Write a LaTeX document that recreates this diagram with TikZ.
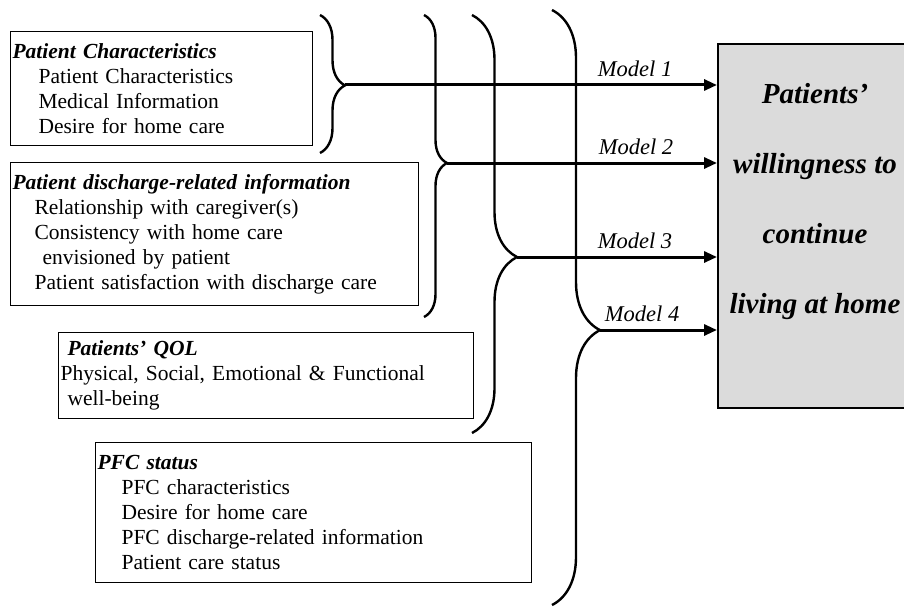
\documentclass[tikz,border=0pt]{standalone}
\usepackage{fontspec}
\setmainfont{Liberation Serif}
\usetikzlibrary{positioning,decorations.pathreplacing,arrows.meta}

\begin{document}
\begin{tikzpicture}[x=1pt,y=-1pt,
    box/.style={draw,line width=1.1pt,anchor=north west,align=left,inner xsep=2pt,inner ysep=3pt,font=\fontsize{21.5}{25}\selectfont},
    brc/.style={line width=2.4pt,decorate},
    mline/.style={-{Stealth[length=13pt,width=11pt,inset=0pt]},line width=3pt},
    mdl/.style={font=\fontsize{22.5}{25}\selectfont\itshape,above=3pt},
    goal/.style={draw,line width=2pt,fill=black!14,anchor=north west,minimum width=215pt,minimum height=364pt}]
  \useasboundingbox (0,0) rectangle (904,607);

  % input boxes
  \node[box,text width=298pt,minimum height=114pt] (pc) at (10,31)
    {\textbf{\textit{Patient Characteristics}}\\
     \hspace*{26pt}Patient Characteristics\\
     \hspace*{26pt}Medical Information\\
     \hspace*{26pt}Desire for home care};
  \node[box,text width=404pt,minimum height=143pt] (pd) at (10,162)
    {\textbf{\textit{Patient discharge-related information}}\\
     \hspace*{22pt}Relationship with caregiver(s)\\
     \hspace*{22pt}Consistency with home care\\
     \hspace*{30pt}envisioned  by patient\\
     \hspace*{22pt}Patient satisfaction with discharge care};
  \node[box,text width=411pt,minimum height=86pt] (ql) at (58,332)
    {\hspace*{7pt}\textbf{\textit{Patients' QOL}}\\
     Physical, Social, Emotional \& Functional\\
     \hspace*{7pt}well-being};
  \node[box,text width=432pt,minimum height=140pt] (pfc) at (95,442)
    {\textbf{\textit{PFC status}}\\
     \hspace*{24pt}PFC characteristics\\
     \hspace*{24pt}Desire for home care\\
     \hspace*{24pt}PFC discharge-related information\\
     \hspace*{24pt}Patient care status};

  % outcome
  \node[goal] (goal) at (717,43) {};
  \node[font=\fontsize{29}{70}\selectfont\bfseries\itshape,align=center] (gtxt) at (815,202)
    {Patients'\\willingness to\\continue\\living at home};

  % braces
  \coordinate (t1) at (345,85);
  \coordinate (t2) at (447,163);
  \coordinate (t3) at (517,257);
  \coordinate (t4) at (600,330);
  \draw[brc,decoration={brace,amplitude=25pt,aspect=0.51}] (320,15) -- (320,153);
  \draw[brc,decoration={brace,amplitude=23pt,aspect=0.49}] (424,15) -- (424,317);
  \draw[brc,decoration={brace,amplitude=45pt,aspect=0.579}] (472,15) -- (472,433);
  \draw[brc,decoration={brace,amplitude=48pt,aspect=0.538}] (552,10) -- (552,605);

  % models
  \draw[mline] (t1) -- (t1 -| goal.west) node[mdl,pos=.78] {Model 1};
  \draw[mline] (t2) -- (t2 -| goal.west) node[mdl,pos=.70] {Model 2};
  \draw[mline] (t3) -- (t3 -| goal.west) node[mdl,pos=.59] {Model 3};
  \draw[mline] (t4) -- (t4 -| goal.west) node[mdl,pos=.36] {Model 4};
\end{tikzpicture}
\end{document}
